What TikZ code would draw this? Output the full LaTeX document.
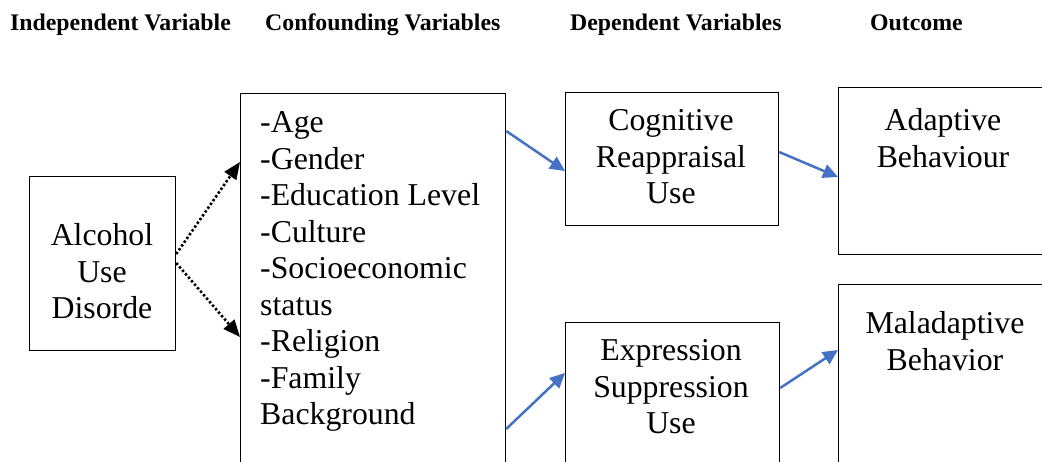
\documentclass[tikz,border=0pt]{standalone}
\usepackage{fontspec}
\setmainfont{Liberation Serif}
\newfontfamily\bodyfont{LiberationSerif}
\usetikzlibrary{arrows.meta}
\definecolor{arrowblue}{RGB}{68, 114, 196}
\tikzset{
  box/.style={draw, line width=1.2pt, inner sep=0pt, anchor=north west},
  txt/.style={inner sep=0pt, anchor=north, align=center, font=\bodyfont\fontsize{31.8}{36.5}\selectfont},
  head/.style={inner sep=0pt, anchor=base west, font=\bfseries\fontsize{23.8}{27}\selectfont},
  dotarrow/.style={line width=2.6pt, dash pattern=on 2.4pt off 2.2pt, -{Triangle[length=17pt, width=14pt]}},
  bluearrow/.style={arrowblue, line width=2.5pt, -{Triangle[length=15pt, width=14pt]}}
}

\begin{document}
\begin{tikzpicture}[x=1pt, y=-1pt]
\useasboundingbox (0, 0) rectangle (1042, 462);
\node[head] (h1) at (10, 31) {Independent Variable};
\node[head] (h2) at (265, 31) {Confounding Variables};
\node[head] (h3) at (570, 31) {Dependent Variables};
\node[head] (h4) at (870, 31) {Outcome};

\node[box, minimum width=146pt, minimum height=174pt] (aud) at (29, 176) {};
\node[box, minimum width=265pt, minimum height=400pt] (conf) at (240, 93) {};
\node[box, minimum width=213pt, minimum height=133pt] (cog) at (565, 92) {};
\node[box, minimum width=214pt, minimum height=200pt] (expr) at (565, 322) {};
\node[box, minimum width=215pt, minimum height=167pt] (adapt) at (838, 87) {};
\node[box, minimum width=215pt, minimum height=250pt] (malad) at (838, 284) {};

\node[txt] (audtxt) at (102, 223.5) {Alcohol\\Use\\Disorde};
\node[txt, anchor=north west, align=left] (conftxt) at (260, 111.5)
  {-Age\\-Gender\\-Education Level\\-Culture\\-Socioeconomic\\status\\-Religion\\-Family\\Background};
\node[txt] (cogtxt) at (671, 109.5) {Cognitive\\Reappraisal\\Use};
\node[txt] (exprtxt) at (671, 339.5) {Expression\\Suppression\\Use};
\node[txt] (adapttxt) at (943, 108.5) {Adaptive\\Behaviour};
\node[txt] (maladtxt) at (945, 311.5) {Maladaptive\\Behavior};

\draw[dotarrow] (aud.east |- 0, 254) -- (conf.west |- 0, 162);
\draw[dotarrow] (aud.east |- 0, 263) -- (conf.west |- 0, 337);
\draw[bluearrow] (conf.east |- 0, 131) -- (cog.west |- 0, 171);
\draw[bluearrow] (conf.east |- 0, 429) -- (expr.west |- 0, 373);
\draw[bluearrow] (cog.east |- 0, 152) -- (adapt.west |- 0, 177);
\draw[bluearrow] (expr.east |- 0, 388) -- (malad.west |- 0, 350);
\end{tikzpicture}
\end{document}
